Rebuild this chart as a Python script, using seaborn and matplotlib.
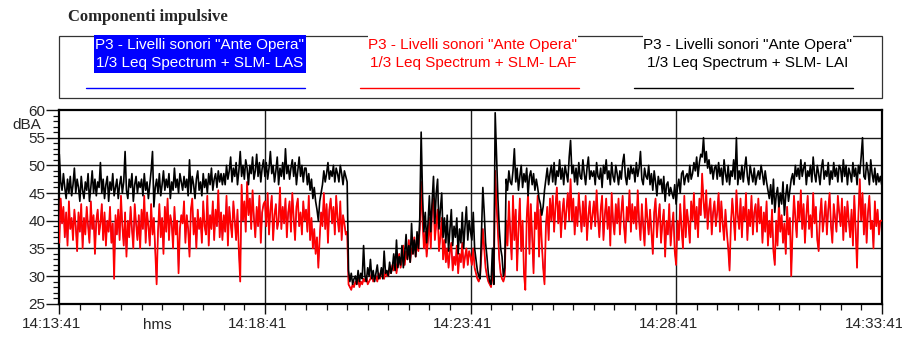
import numpy as np
import pandas as pd
import matplotlib
matplotlib.use("Agg")
import matplotlib.pyplot as plt
from matplotlib.lines import Line2D
from matplotlib.patches import Rectangle
from matplotlib.ticker import MultipleLocator, FixedLocator, FixedFormatter
from matplotlib.transforms import ScaledTranslation
import seaborn as sns

# Sound levels in dBA, one reading every 2 s from 14:13:41 to 14:33:41
# (one row of 30 readings per minute)
lai_db = [
    52.0, 47.0, 45.5, 48.5, 46.0, 44.0, 47.5, 45.0, 48.0, 44.5,
    46.5, 49.5, 45.0, 47.5, 46.0, 43.5, 48.0, 45.5, 44.0, 47.0,
    45.5, 48.5, 43.5, 46.0, 49.0, 45.0, 47.5, 44.5, 47.0, 46.0,
    50.5, 45.0, 47.5, 44.0, 46.5, 48.0, 43.5, 47.0, 45.5, 48.5,
    44.5, 46.0, 47.5, 44.0, 46.5, 48.0, 45.0, 47.0, 52.5, 45.5,
    44.0, 47.5, 46.0, 48.5, 43.5, 46.5, 48.0, 45.0, 47.0, 46.0,
    47.5, 44.5, 48.5, 45.5, 47.0, 44.0, 46.5, 49.0, 52.5, 42.5,
    46.0, 47.5, 45.0, 48.5, 44.5, 46.5, 49.0, 45.5, 47.5, 46.0,
    48.5, 44.0, 47.0, 45.5, 49.5, 46.0, 47.5, 45.0, 48.5, 47.0,
    45.5, 48.0, 46.0, 47.5, 44.5, 51.0, 45.0, 48.0, 46.5, 44.0,
    47.5, 49.0, 45.5, 47.0, 44.5, 48.5, 46.0, 47.5, 45.0, 48.5,
    46.5, 49.5, 45.5, 47.5, 48.5, 46.0, 49.0, 47.0, 48.5, 46.5,
    48.5, 46.5, 50.0, 47.5, 49.0, 51.5, 47.0, 49.5, 48.0, 50.5,
    46.5, 49.0, 52.5, 48.0, 50.0, 47.5, 51.0, 49.5, 46.5, 50.0,
    48.5, 51.5, 47.5, 49.0, 52.0, 48.0, 50.5, 47.0, 49.5, 51.0,
    48.0, 50.5, 47.5, 49.5, 52.5, 48.5, 50.0, 47.0, 49.0, 51.5,
    46.5, 49.5, 48.0, 50.5, 47.5, 53.0, 48.5, 50.0, 47.5, 49.5,
    51.0, 48.0, 50.5, 46.5, 49.0, 51.5, 48.0, 50.0, 47.0, 49.5,
    49.5, 46.5, 48.5, 45.5, 47.5, 44.0, 46.0, 43.5, 42.0, 40.0,
    43.5, 45.0, 46.5, 49.0, 47.0, 48.5, 50.5, 47.5, 49.0, 48.0,
    50.0, 47.0, 49.5, 48.5, 47.0, 50.0, 48.5, 46.5, 49.0, 48.0,
    47.0, 31.0, 29.0, 30.5, 28.5, 29.5, 30.0, 28.5, 31.0, 29.0,
    30.5, 29.5, 35.5, 30.0, 29.0, 31.5, 30.0, 33.0, 29.5, 31.0,
    29.0, 30.5, 32.0, 29.5, 30.0, 31.5, 29.5, 34.5, 30.5, 31.0,
    30.0, 32.5, 30.5, 31.5, 34.0, 31.0, 36.5, 31.5, 33.5, 32.0,
    35.5, 31.5, 34.0, 37.5, 33.0, 35.5, 32.5, 39.5, 34.0, 36.5,
    33.5, 38.0, 35.0, 40.5, 56.0, 44.5, 38.0, 41.5, 36.0, 39.5,
    44.5, 38.0, 43.5, 48.0, 39.5, 45.0, 47.5, 38.5, 42.0, 45.0,
    37.0, 40.5, 36.0, 41.0, 34.5, 38.5, 42.0, 35.5, 39.0, 37.0,
    40.5, 34.0, 38.5, 36.0, 41.5, 35.0, 39.0, 42.5, 36.5, 40.0,
    38.0, 36.5, 41.5, 35.0, 33.0, 31.0, 30.0, 29.5, 38.0, 46.0,
    41.5, 36.0, 33.5, 30.5, 29.0, 28.5, 35.0, 28.5, 59.5, 52.0,
    44.0, 38.5, 35.0, 33.5, 30.0, 31.5, 47.5, 45.5, 49.0, 47.0,
    46.5, 49.0, 53.0, 47.0, 49.5, 45.5, 48.0, 50.0, 46.0, 48.5,
    47.0, 49.5, 44.5, 48.0, 49.0, 46.5, 48.5, 45.5, 47.5, 46.0,
    44.0, 43.0, 41.0, 42.5, 45.5, 47.5, 49.5, 46.5, 48.5, 50.0,
    47.0, 50.5, 46.5, 49.0, 48.0, 51.0, 47.5, 49.5, 46.5, 50.0,
    48.5, 47.0, 51.5, 54.5, 48.5, 50.0, 47.0, 49.5, 46.5, 50.5,
    48.0, 47.5, 51.0, 48.5, 46.5, 49.5, 51.5, 47.5, 49.0, 48.0,
    49.0, 46.5, 50.5, 48.0, 47.5, 49.5, 46.0, 50.0, 48.5, 51.0,
    47.5, 49.0, 46.5, 50.5, 48.0, 47.0, 50.0, 48.5, 46.5, 49.0,
    47.5, 50.5, 52.0, 48.0, 46.5, 49.5, 47.5, 50.0, 48.5, 49.5,
    47.0, 50.5, 48.0, 49.5, 52.5, 47.5, 46.5, 49.5, 48.0, 47.5,
    50.0, 46.5, 48.5, 45.5, 49.0, 47.0, 44.5, 48.0, 46.5, 47.5,
    45.0, 48.0, 43.5, 46.5, 47.0, 44.5, 46.0, 45.0, 44.0, 46.5,
    43.0, 46.0, 47.5, 45.0, 48.5, 49.0, 46.5, 48.0, 48.5, 47.0,
    50.0, 47.5, 48.5, 50.5, 49.0, 51.5, 48.0, 50.5, 52.0, 51.5,
    55.0, 50.5, 52.5, 49.5, 51.0, 48.5, 50.0, 47.5, 49.5, 50.0,
    47.5, 50.5, 48.0, 49.5, 46.5, 51.0, 48.5, 47.0, 50.0, 46.5,
    49.0, 48.0, 51.0, 47.5, 55.0, 46.5, 49.0, 47.5, 50.0, 47.0,
    49.5, 51.5, 48.0, 46.5, 50.0, 48.5, 47.0, 49.5, 46.5, 48.0,
    49.0, 47.5, 50.0, 48.5, 46.5, 49.0, 47.0, 45.5, 44.0, 46.5,
    43.0, 47.5, 41.5, 44.5, 46.0, 42.5, 45.0, 43.0, 47.0, 41.0,
    44.5, 46.5, 43.5, 45.5, 47.5, 48.5, 46.5, 50.0, 48.0, 49.5,
    47.5, 51.0, 48.0, 49.5, 50.5, 46.5, 49.0, 48.0, 50.0, 47.0,
    51.5, 48.5, 47.0, 50.0, 48.5, 46.5, 49.5, 51.0, 47.5, 49.0,
    48.0, 50.5, 46.5, 49.0, 47.5, 50.5, 48.0, 49.5, 47.0, 50.0,
    49.5, 47.0, 51.0, 48.0, 50.0, 46.5, 49.5, 48.5, 47.0, 50.5,
    48.0, 49.5, 46.5, 50.0, 48.5, 51.5, 55.0, 48.0, 47.5, 50.5,
    49.0, 46.5, 51.0, 48.5, 47.0, 49.5, 46.5, 48.5, 47.0, 48.0,
    46.5,
]

laf_db = [
    36.0, 44.0, 39.5, 42.5, 37.0, 41.5, 35.5, 43.5, 38.5, 40.5,
    36.5, 42.0, 39.0, 34.5, 41.5, 38.0, 43.0, 35.0, 40.5, 37.5,
    42.5, 39.0, 36.0, 43.5, 38.5, 41.0, 34.0, 40.0, 42.0, 37.5,
    39.5, 43.0, 36.5, 41.5, 35.5, 40.0, 38.0, 42.5, 36.0, 39.5,
    29.5, 41.0, 37.5, 42.0, 36.5, 44.5, 39.0, 35.5, 41.5, 33.5,
    40.0, 37.0, 42.5, 38.5, 35.0, 43.0, 39.5, 36.5, 41.0, 35.0,
    42.0, 38.5, 44.5, 36.0, 41.5, 39.0, 35.5, 43.0, 37.5, 40.5,
    34.5, 28.5, 38.0, 43.0, 37.0, 40.5, 34.0, 42.5, 38.0, 44.0,
    36.5, 41.0, 39.5, 35.0, 42.5, 37.5, 40.0, 30.5, 38.5, 41.0,
    39.5, 43.5, 36.0, 41.0, 38.5, 33.5, 42.0, 44.0, 37.5, 40.5,
    35.0, 42.0, 38.5, 40.5, 36.0, 43.5, 39.0, 37.5, 44.5, 35.5,
    41.0, 38.5, 43.5, 36.5, 42.0, 39.0, 45.5, 37.0, 41.5, 36.5,
    41.0, 38.0, 44.5, 35.5, 42.5, 39.5, 37.0, 43.5, 40.0, 36.5,
    42.0, 34.5, 29.0, 46.5, 40.0, 43.5, 38.0, 47.0, 41.0, 44.0,
    38.5, 45.5, 40.5, 37.0, 42.5, 39.0, 44.5, 36.0, 41.5, 43.0,
    43.5, 39.0, 45.0, 37.5, 42.0, 44.5, 36.5, 41.0, 43.0, 38.5,
    40.0, 46.0, 38.5, 42.5, 39.5, 44.0, 37.0, 41.5, 43.5, 38.0,
    45.0, 40.5, 36.5, 42.5, 44.0, 39.0, 41.5, 37.5, 43.5, 40.0,
    42.0, 38.0, 44.5, 36.5, 40.5, 35.0, 38.5, 34.0, 37.0, 31.5,
    37.0, 41.5, 39.0, 45.0, 38.5, 43.0, 36.0, 42.0, 44.0, 39.5,
    42.5, 37.5, 44.5, 40.5, 38.0, 43.5, 36.5, 41.0, 39.5, 37.5,
    38.0, 28.5, 28.0, 27.5, 28.5, 28.0, 29.0, 28.5, 29.5, 28.0,
    29.0, 28.5, 29.5, 29.0, 30.0, 28.5, 29.0, 29.5, 30.5, 29.0,
    29.5, 30.0, 29.0, 30.5, 29.5, 31.0, 30.0, 29.5, 31.0, 30.0,
    30.0, 31.5, 30.5, 32.0, 31.0, 33.5, 30.5, 32.5, 34.0, 31.5,
    33.0, 35.5, 32.0, 34.5, 33.0, 36.5, 32.5, 35.0, 34.0, 37.0,
    33.5, 36.0, 34.5, 38.5, 47.0, 40.0, 35.0, 38.0, 33.5, 36.5,
    40.5, 35.0, 42.5, 44.0, 36.5, 39.5, 42.0, 34.5, 37.0, 40.5,
    33.0, 36.5, 32.5, 35.0, 31.5, 34.5, 36.0, 31.0, 33.5, 32.0,
    35.5, 30.5, 34.0, 32.5, 36.0, 31.5, 33.5, 35.0, 32.0, 34.5,
    33.5, 32.0, 35.0, 31.5, 30.5, 29.5, 29.0, 30.0, 34.0, 38.5,
    35.0, 31.5, 30.0, 29.0, 28.5, 28.0, 31.0, 28.5, 49.0, 43.0,
    38.0, 33.0, 30.5, 29.5, 29.0, 30.0, 40.0, 35.5, 43.5, 38.0,
    33.0, 44.5, 36.5, 42.0, 31.0, 38.5, 44.0, 34.5, 40.0, 30.5,
    27.5, 40.5, 45.0, 34.0, 43.0, 37.0, 30.5, 41.5, 38.5, 44.5,
    33.5, 42.0, 36.0, 31.5, 28.5, 39.0, 42.5, 36.5, 44.0, 40.0,
    44.5, 38.0, 42.5, 46.0, 39.5, 43.5, 37.0, 41.5, 44.0, 38.5,
    42.0, 45.0, 40.0, 47.5, 40.0, 44.0, 37.5, 42.5, 39.0, 45.0,
    41.5, 38.0, 43.5, 39.0, 44.5, 36.5, 41.0, 43.5, 38.5, 41.0,
    43.5, 39.0, 45.5, 40.5, 37.0, 42.0, 44.5, 36.5, 41.0, 44.0,
    38.5, 42.5, 35.5, 45.0, 40.0, 37.5, 43.0, 39.5, 44.0, 37.5,
    41.5, 44.5, 39.0, 36.0, 42.5, 40.0, 45.5, 38.0, 43.0, 39.5,
    42.5, 38.5, 45.5, 40.0, 36.5, 43.0, 39.0, 35.5, 44.0, 40.5,
    37.5, 42.0, 38.0, 34.0, 41.5, 44.0, 37.0, 40.5, 43.0, 36.0,
    39.5, 42.0, 33.5, 40.0, 37.5, 43.0, 35.5, 39.0, 41.5, 34.5,
    32.0, 40.0, 36.5, 43.0, 38.5, 35.0, 44.5, 37.0, 42.0, 39.5,
    36.0, 43.5, 40.0, 45.0, 38.5, 42.5, 37.0, 44.0, 41.0, 48.5,
    43.5, 40.5, 45.5, 38.5, 42.0, 44.0, 37.5, 41.5, 43.5, 39.0,
    41.5, 45.0, 38.0, 43.5, 39.5, 36.5, 42.0, 38.0, 35.0, 31.0,
    39.5, 44.0, 40.5, 36.5, 45.5, 41.0, 38.5, 44.0, 37.0, 42.5,
    40.0, 45.0, 36.5, 42.0, 39.0, 44.5, 37.5, 41.5, 43.0, 38.0,
    44.0, 39.5, 42.5, 36.0, 41.5, 38.0, 43.5, 35.5, 40.0, 37.0,
    42.0, 34.5, 32.0, 40.0, 35.5, 43.5, 38.0, 41.0, 36.0, 39.5,
    34.0, 42.5, 37.5, 40.5, 30.0, 38.5, 44.5, 40.5, 37.0, 43.5,
    40.0, 45.5, 38.5, 43.0, 36.0, 41.0, 44.5, 38.5, 41.0, 37.0,
    45.0, 39.5, 42.5, 36.5, 34.5, 41.0, 44.0, 38.0, 40.5, 43.5,
    37.5, 42.0, 45.0, 39.0, 36.0, 43.0, 40.5, 38.0, 44.5, 41.5,
    39.0, 44.0, 36.5, 42.5, 38.0, 43.5, 40.0, 37.0, 42.0, 35.5,
    44.5, 38.5, 31.5, 41.0, 47.5, 40.0, 45.0, 37.5, 43.0, 36.0,
    41.5, 44.5, 38.5, 40.0, 35.0, 43.5, 39.0, 42.0, 37.5, 40.0,
    40.0,
]

# The slow (LAS) trace follows the fast one and runs underneath it
las_db = list(laf_db)

series_names = ["LAS", "LAF", "LAI"]
series_colors = {"LAS": "#0000ff", "LAF": "#ff0000", "LAI": "#000000"}
series_widths = {"LAS": 0.6, "LAF": 1.25, "LAI": 1.2}
time_labels = ["14:13:41", "14:18:41", "14:23:41", "14:28:41", "14:33:41"]
y_ticks = [25, 30, 35, 40, 45, 50, 55, 60]
legend_line1 = 'P3 - Livelli sonori "Ante Opera"'
legend_line2 = "1/3 Leq Spectrum + SLM- {}"

total_s = (len(time_labels) - 1) * 300
frames = []
for name, vals in zip(series_names, [las_db, laf_db, lai_db]):
    frames.append(pd.DataFrame({"time_s": np.linspace(0, total_s, len(vals)),
                                "level": vals, "series": name}))
df = pd.concat(frames, ignore_index=True)

sns.set_style("white")
plt.rcParams["font.family"] = ["Liberation Sans", "DejaVu Sans"]
FS = 11

W, H = 903, 339
fig = plt.figure(figsize=(W / 100, H / 100), dpi=100)


def fx(px):
    return px / W


def fy(py):
    return 1 - py / H


x0, x1, ytop, ybot = 59.3, 881.7, 110.0, 303.7
ax = fig.add_axes([fx(x0), fy(ybot), fx(x1) - fx(x0), fy(ytop) - fy(ybot)])

for name in series_names:
    sns.lineplot(data=df[df["series"] == name], x="time_s", y="level",
                 color=series_colors[name], lw=series_widths[name],
                 estimator=None, sort=False, legend=False, ax=ax, zorder=3)

ax.set_xlim(0, total_s)
ax.set_ylim(y_ticks[0], y_ticks[-1])
ax.set_xlabel("")
ax.set_ylabel("")

ax.xaxis.set_major_locator(FixedLocator([i * 300 for i in range(len(time_labels))]))
ax.xaxis.set_major_formatter(FixedFormatter(time_labels))
ax.xaxis.set_minor_locator(MultipleLocator(30))
ax.yaxis.set_major_locator(FixedLocator(y_ticks))
ax.yaxis.set_minor_locator(MultipleLocator(1))

ax.tick_params(axis="x", which="major", direction="out", length=7.5, width=1.0,
               color="#111111", labelsize=FS, pad=2, bottom=True)
ax.tick_params(axis="x", which="minor", direction="out", length=4.5, width=0.9,
               color="#111111", bottom=True)
ax.tick_params(axis="y", which="major", direction="out", length=9.5, width=1.0,
               color="#111111", labelsize=FS, pad=0.5, left=True)
ax.tick_params(axis="y", which="minor", direction="out", length=4.5, width=0.9,
               color="#111111", left=True)

# time labels sit slightly left of their ticks
shift = ScaledTranslation(-7.5 / 100, 0, fig.dpi_scale_trans)
for lbl in ax.get_xticklabels():
    lbl.set_transform(lbl.get_transform() + shift)

for v in y_ticks[1:-1]:
    ax.axhline(v, color="#1a1a1a", lw=1.0, zorder=1)
for t in range(300, total_s, 300):
    ax.axvline(t, color="#1a1a1a", lw=1.0, zorder=1)

for side in ["left", "right", "top", "bottom"]:
    ax.spines[side].set_visible(True)
    ax.spines[side].set_color("#000000")
    ax.spines[side].set_linewidth(1.6)

fig.text(fx(157.5), fy(325), "hms", ha="center", va="center", fontsize=FS)
fig.text(fx(27), fy(125), "dBA", ha="center", va="center", fontsize=FS)

# Title
fig.text(fx(68), fy(21), "Componenti impulsive", ha="left", va="baseline",
         fontsize=12, fontweight="bold", family=["Liberation Serif", "DejaVu Serif"])

# Legend frame
fig.patches.append(Rectangle((fx(59), fy(98)), fx(882) - fx(59), fy(36) - fy(98),
                             transform=fig.transFigure, fill=False,
                             edgecolor="#333333", lw=0.9, zorder=1))

entries = [
    ("LAS", 94, 306, 86, 305, "#0000ff", "white"),
    ("LAF", 368, 578, 360, 579, "white", "#ff0000"),
    ("LAI", 643, 853, 634, 853, "white", "#000000"),
]
for name, tx0, tx1, lx0, lx1, bg, fg in entries:
    fig.patches.append(Rectangle((fx(tx0), fy(73)), fx(tx1) - fx(tx0), fy(35) - fy(73),
                                 transform=fig.transFigure, facecolor=bg,
                                 edgecolor="none", zorder=2))
    cx = (tx0 + tx1) / 2
    fig.text(fx(cx), fy(45.5), legend_line1, ha="center", va="center",
             fontsize=FS, color=fg, zorder=3)
    fig.text(fx(cx), fy(63.5), legend_line2.format(name), ha="center", va="center",
             fontsize=FS, color=fg, zorder=3)
    fig.lines.append(Line2D([fx(lx0), fx(lx1)], [fy(88), fy(88)],
                            transform=fig.transFigure, color=series_colors[name], lw=1.0))

fig.savefig("out.png", dpi=100, facecolor="white")
